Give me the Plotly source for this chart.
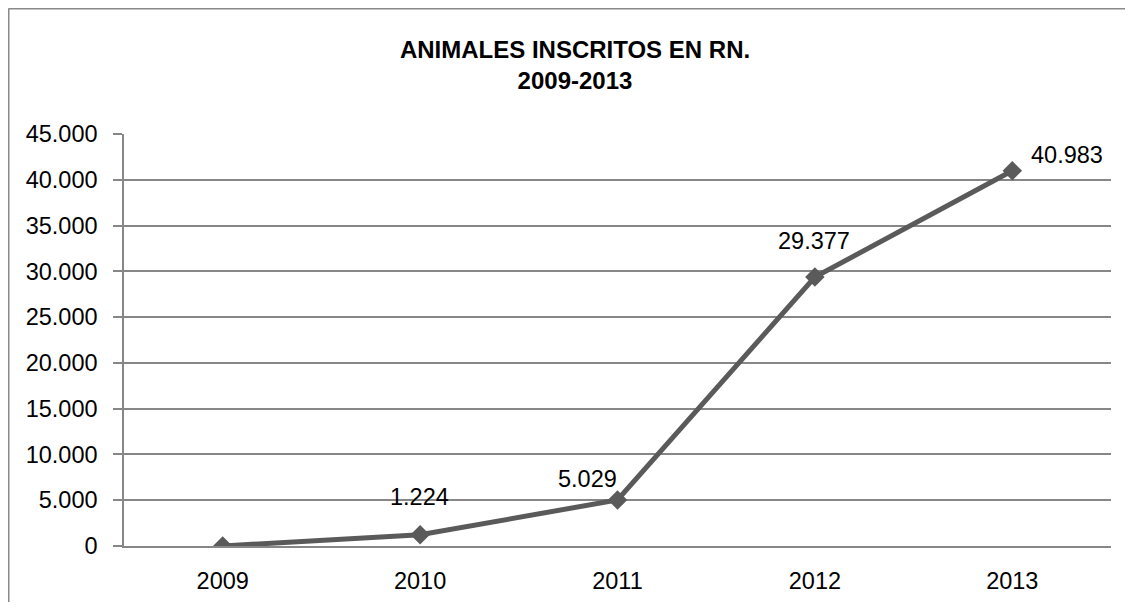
import plotly.graph_objects as go

years = ["2009", "2010", "2011", "2012", "2013"]
animales = [0, 1224, 5029, 29377, 40983]
label_text = ["", "1.224", "5.029", "29.377", "40.983"]
y_tickvals = [0, 5000, 10000, 15000, 20000, 25000, 30000, 35000, 40000, 45000]
y_ticktext = ["0", "5.000", "10.000", "15.000", "20.000", "25.000", "30.000", "35.000", "40.000", "45.000"]

# label offsets (px) relative to the point, per point
label_dx = [0, -1, -30, -1, 55]
label_dy = [0, 38, 21, 36, 16]

FONT = "Liberation Sans"
GRID = "#878787"
LINE = "#5a5a5a"

W, H = 1117, 594
L, R, T, B = 116, 14, 126, 56
PW, PH = W - L - R, H - T - B

fig = go.Figure()
fig.add_trace(go.Scatter(
    x=years, y=animales, mode="lines+markers",
    line=dict(color=LINE, width=5),
    marker=dict(symbol="diamond", size=15, color=LINE),
    showlegend=False, hoverinfo="skip",
))

annotations = []
for i, (v, t, dx, dy) in enumerate(zip(animales, label_text, label_dx, label_dy)):
    if not t:
        continue
    annotations.append(dict(
        x=i, y=v, xref="x", yref="y", text=t, showarrow=False,
        xanchor="center", yanchor="middle", xshift=dx, yshift=dy,
        font=dict(family=FONT, size=23.5, color="black"),
    ))

fig.update_layout(
    width=W, height=H,
    margin=dict(l=L, r=R, t=T, b=B, autoexpand=False),
    paper_bgcolor="white", plot_bgcolor="white",
    title=dict(
        text="<b>ANIMALES INSCRITOS EN RN.</b><br><b>2009-2013</b>",
        x=(575 - 8) / W, xanchor="center",
        y=1 - 50 / H, yanchor="top",
        font=dict(family=FONT, size=24, color="black"),
    ),
    annotations=annotations,
    xaxis=dict(
        type="category", range=[-0.5, 4.5], automargin=False,
        showgrid=False, showline=True, linecolor=GRID, linewidth=1.5,
        ticks="", tickfont=dict(family=FONT, size=23.5, color="black"),
        ticklabelstandoff=13, zeroline=False,
    ),
    yaxis=dict(
        range=[0, 45000], tickvals=y_tickvals, ticktext=y_ticktext,
        automargin=False,
        showgrid=True, gridcolor=GRID, gridwidth=1.5,
        showline=True, linecolor=GRID, linewidth=1.5,
        ticks="outside", ticklen=9, tickcolor=GRID, tickwidth=1.5,
        tickfont=dict(family=FONT, size=23.5, color="black"),
        ticklabelstandoff=11, zeroline=False,
    ),
    shapes=[
        dict(type="line", xref="paper", yref="paper",
             x0=-(L - 0.5) / PW, x1=-(L - 0.5) / PW,
             y0=-1, y1=(PH + T - 0.5) / PH,
             line=dict(color="#898989", width=2)),
        dict(type="line", xref="paper", yref="paper",
             x0=-(L - 0.5) / PW, x1=1.5,
             y0=(PH + T - 0.5) / PH, y1=(PH + T - 0.5) / PH,
             line=dict(color="#898989", width=2)),
    ],
)

fig.write_html("out.html")
